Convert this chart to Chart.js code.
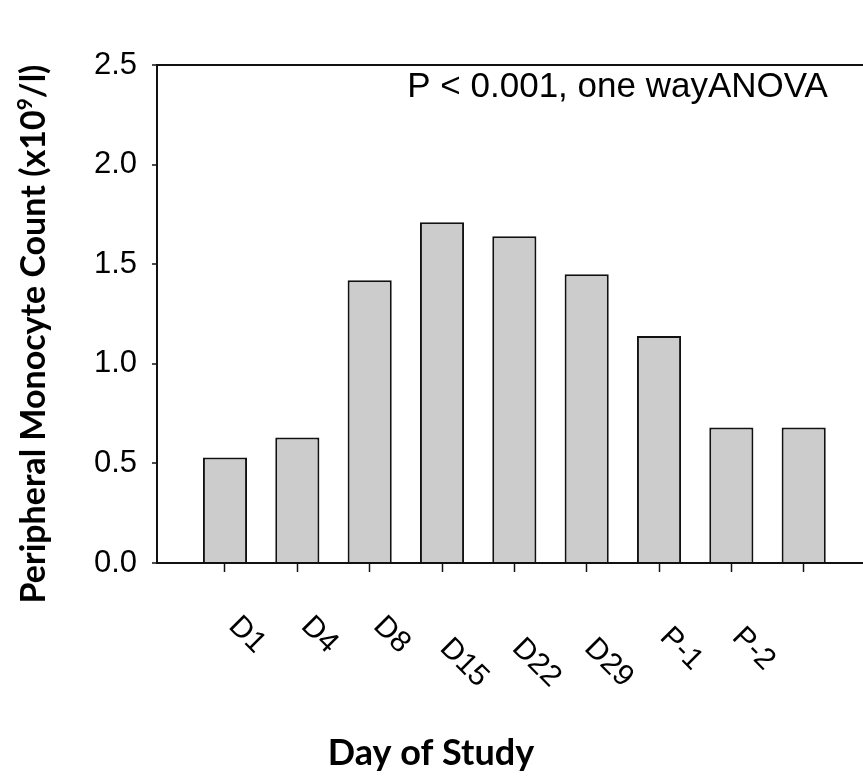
<!DOCTYPE html>
<html>
<head>
<meta charset="utf-8">
<script src="https://cdn.jsdelivr.net/npm/chart.js@4.4.1/dist/chart.umd.min.js"></script>
<style>
    html, body { margin: 0; padding: 0; background: #fff; overflow: hidden; }
</style>
</head>
<body>
<canvas id="monocyteChart" width="863" height="776"></canvas>
<script>
// Study days under the axis (the last bar has no label in the source)
const dayLabels = ['D1', 'D4', 'D8', 'D15', 'D22', 'D29', 'P-1', 'P-2'];
// Peripheral monocyte count (x10^9/l), one value per bar
const monocyteCounts = [0.53, 0.63, 1.42, 1.71, 1.64, 1.45, 1.14, 0.68, 0.68];
// Y axis ticks
const yTicks = [0, 0.5, 1.0, 1.5, 2.0, 2.5];

const statNote = 'P < 0.001, one wayANOVA';
const yTitleParts = ['Peripheral Monocyte Count (x10', '9', '/l)'];
const xTitle = 'Day of Study';

const tickFont = '"Liberation Sans", Arial, sans-serif';
const titleFont = 'Lato, "Open Sans", sans-serif';

// Rotated day labels, annotation and axis titles
const textPlugin = {
    id: 'textPlugin',
    afterDraw(chart) {
        const { ctx, chartArea, scales } = chart;
        const xs = scales.x;
        const ys = scales.y;
        ctx.save();
        ctx.fillStyle = '#000';

        // stats note in the top right of the plot
        ctx.font = '35px ' + tickFont;
        ctx.textAlign = 'left';
        ctx.textBaseline = 'alphabetic';
        ctx.fillText(statNote, xs.getPixelForValue(2.52), ys.getPixelForValue(2.34));

        // day labels, turned 45 degrees clockwise; longer ones sit lower
        ctx.font = '30px ' + tickFont;
        ctx.textAlign = 'center';
        ctx.textBaseline = 'middle';
        const refW = ctx.measureText(dayLabels[0]).width;
        dayLabels.forEach((label, i) => {
            const w = ctx.measureText(label).width;
            const cx = xs.getPixelForValue(i) + 22;
            const cy = chartArea.bottom + 72 + 1.67 * (w - refW);
            ctx.save();
            ctx.translate(cx, cy);
            ctx.rotate(Math.PI / 4);
            ctx.fillText(label, 0, 0);
            ctx.restore();
        });

        // y title with superscript 9
        const big = 'bold 34px ' + titleFont;
        const small = 'bold 21px ' + titleFont;
        ctx.textAlign = 'left';
        ctx.textBaseline = 'alphabetic';
        ctx.font = big;
        const w1 = ctx.measureText(yTitleParts[0]).width;
        const w3 = ctx.measureText(yTitleParts[2]).width;
        ctx.font = small;
        const w2 = ctx.measureText(yTitleParts[1]).width;
        const total = w1 + w2 + w3;
        ctx.save();
        ctx.translate(45, (chartArea.top + chartArea.bottom) / 2 + 20);
        ctx.rotate(-Math.PI / 2);
        let pos = -total / 2;
        ctx.font = big;
        ctx.fillText(yTitleParts[0], pos, 0);
        pos += w1;
        ctx.font = small;
        ctx.fillText(yTitleParts[1], pos, -13);
        pos += w2;
        ctx.font = big;
        ctx.fillText(yTitleParts[2], pos, 0);
        ctx.restore();

        // x title
        ctx.font = 'bold 36px ' + titleFont;
        ctx.textAlign = 'center';
        ctx.fillText(xTitle, chartArea.left + 274, chartArea.bottom + 202);

        ctx.restore();
    }
};

new Chart(document.getElementById('monocyteChart'), {
    type: 'bar',
    data: {
        datasets: [{
            data: monocyteCounts.map((v, i) => ({ x: i, y: v })),
            backgroundColor: '#cccccc',
            borderColor: '#111111',
            borderWidth: 2,
            borderSkipped: 'bottom',
            categoryPercentage: 1,
            barPercentage: 0.61,
        }]
    },
    options: {
        responsive: false,
        animation: false,
        devicePixelRatio: 1,
        layout: { padding: { top: 65, right: 0, left: 0, bottom: 0 } },
        plugins: {
            legend: { display: false },
            tooltip: { enabled: false },
        },
        scales: {
            x: {
                type: 'linear',
                min: -0.94,
                max: 8.82,
                offset: false,
                afterFit: (s) => { s.height = 213; },
                ticks: {
                    display: false,
                    stepSize: 1,
                    includeBounds: false,
                },
                grid: {
                    offset: false,
                    drawOnChartArea: false,
                    color: '#111',
                    tickLength: 9,
                    tickWidth: 1.5,
                },
                border: { color: '#111', width: 2 },
            },
            y: {
                min: 0,
                max: 2.5,
                afterFit: (s) => { s.width = 157; },
                afterBuildTicks: (s) => { s.ticks = yTicks.map(v => ({ value: v })); },
                ticks: {
                    padding: 15,
                    color: '#000',
                    font: { family: tickFont, size: 31 },
                    callback: (v) => Number(v).toFixed(1),
                },
                grid: {
                    color: (c) => (c.tick && c.tick.value === 2.5 ? '#111' : 'rgba(0,0,0,0)'),
                    lineWidth: 2,
                    tickColor: '#111',
                    tickLength: 5,
                    tickWidth: 1.5,
                },
                border: { color: '#111', width: 2 },
            },
        },
    },
    plugins: [textPlugin],
});
</script>
</body>
</html>
